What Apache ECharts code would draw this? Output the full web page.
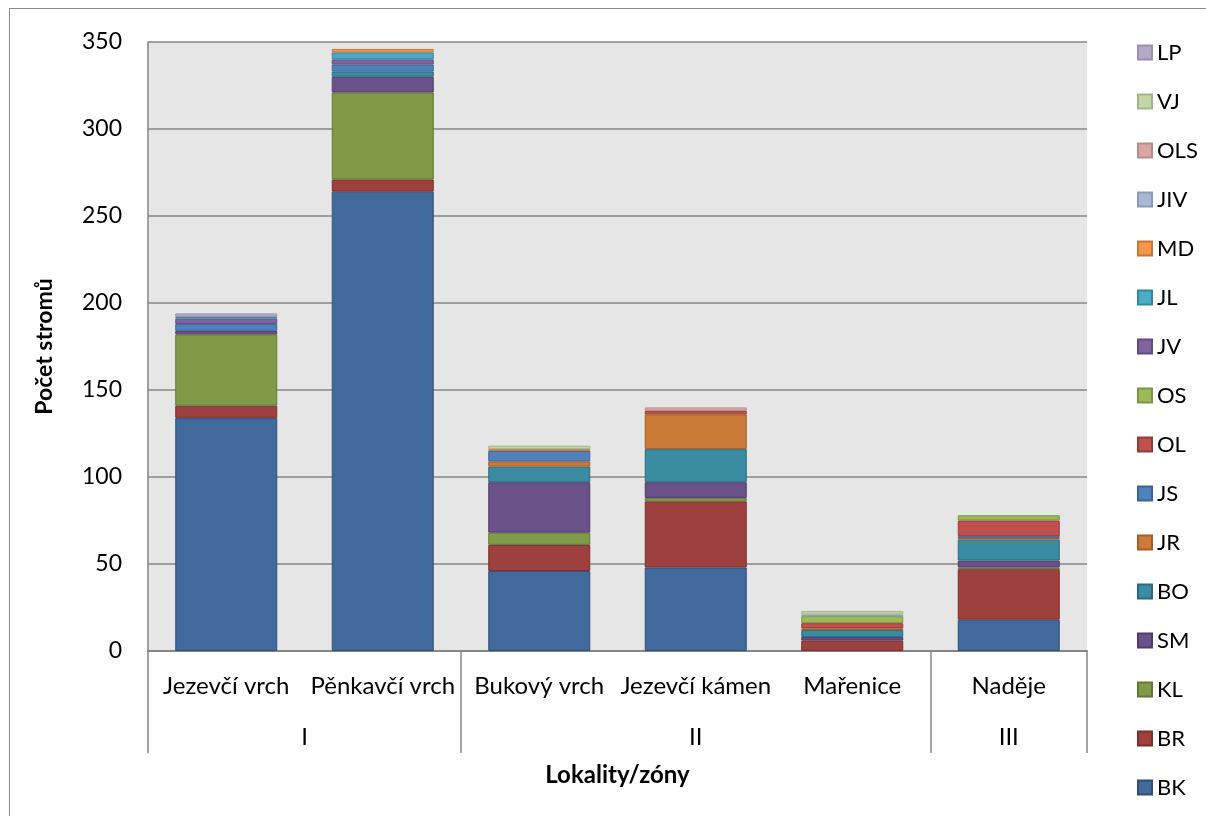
<!DOCTYPE html>
<html>
<head>
<meta charset="utf-8">
<script src="https://cdn.jsdelivr.net/npm/echarts@6/dist/echarts.min.js"></script>
<style>
  html, body { margin: 0; padding: 0; background: #ffffff; overflow: hidden; }
  #frame { position: absolute; left: 9px; top: 8px; width: 1300px; height: 900px; border: 1px solid #8c8c8c; box-sizing: border-box; }
  #chart { position: absolute; left: 0; top: 0; width: 1206px; height: 816px; }
</style>
</head>
<body>
<div id="frame"></div>
<div id="chart"></div>
<script>
// Localities (first level) and zones (second level)
const localities = ['Jezevčí vrch', 'Pěnkavčí vrch', 'Bukový vrch', 'Jezevčí kámen', 'Mařenice', 'Naděje'];
const zones = ['I', 'II', 'III'];
const zoneBounds = [0, 2, 5, 6];       // zone dividers, in category units
const zoneCenters = [1, 3.5, 5.5];     // where each zone label sits

// Tree counts per species, stacked bottom to top
const BK  = [134, 264, 46, 48, 0, 18];
const BR  = [7, 7, 15, 38, 6, 29];
const KL  = [41, 50, 7, 2, 0, 1];
const SM  = [2, 9, 29, 9, 2, 4];
const BO  = [0, 3, 9, 19, 4, 12];
const JR  = [0, 0, 3, 20, 1, 1];
const JS  = [4, 4, 6, 0, 0, 1];
const OL  = [0, 0, 0, 2, 3, 9];
const OS  = [0, 0, 0, 0, 4, 3];
const JV  = [3, 3, 0, 0, 0, 0];
const JL  = [1, 4, 0, 0, 0, 0];
const MD  = [0, 2, 1, 0, 0, 0];
const JIV = [0, 0, 0, 0, 1, 0];
const OLS = [0, 0, 0, 2, 0, 0];
const VJ  = [0, 0, 2, 0, 2, 0];
const LP  = [2, 0, 0, 0, 0, 0];

const yTicks = [0, 50, 100, 150, 200, 250, 300, 350];

const speciesData = { BK, BR, KL, SM, BO, JR, JS, OL, OS, JV, JL, MD, JIV, OLS, VJ, LP };
const speciesOrder = ['BK', 'BR', 'KL', 'SM', 'BO', 'JR', 'JS', 'OL', 'OS', 'JV', 'JL', 'MD', 'JIV', 'OLS', 'VJ', 'LP'];

const fills = {
  BK: '#41699B', BR: '#9E403E', KL: '#7F9B48', SM: '#6A5189', BO: '#3A8CA2', JR: '#CC7A38',
  JS: '#4F81BD', OL: '#C0504D', OS: '#9BBB59', JV: '#8064A2', JL: '#4BACC6', MD: '#F79646',
  JIV: '#A7B7D6', OLS: '#D9A6A5', VJ: '#C3D5A6', LP: '#B5A9C8'
};
const edges = {
  BK: '#2F4F78', BR: '#7A2D2B', KL: '#607735', SM: '#4F3A68', BO: '#2A6A7C', JR: '#A55D24',
  JS: '#3A6595', OL: '#963A38', OS: '#7A9444', JV: '#624B80', JL: '#34879D', MD: '#C6763A',
  JIV: '#8B9AB7', OLS: '#B88B8A', VJ: '#A4B48A', LP: '#9A8FAD'
};

const FONT = 'Lato, "Open Sans", sans-serif';

const series = speciesOrder.map(name => ({
  name: name,
  type: 'bar',
  stack: 'total',
  barWidth: 102,
  xAxisIndex: 0,
  yAxisIndex: 0,
  itemStyle: { color: fills[name], borderColor: edges[name], borderWidth: 1 },
  emphasis: { disabled: true },
  data: speciesData[name].map(v => (v === 0 ? '-' : v))
}));

const chart = echarts.init(document.getElementById('chart'), null, { renderer: 'canvas' });
chart.setOption({
  animation: false,
  backgroundColor: 'transparent',
  textStyle: { fontFamily: FONT, color: '#000' },
  grid: {
    left: 148, right: 119, top: 42, bottom: 165,
    show: true, backgroundColor: '#E6E6E6', borderWidth: 0
  },
  legend: {
    orient: 'vertical',
    left: 1132,
    top: 36.5,
    itemWidth: 14,
    itemHeight: 14,
    itemGap: 27.0,
    icon: 'rect',
    textStyle: { fontFamily: FONT, fontSize: 22, color: '#000', lineHeight: 20, padding: [0, 0, 0, 0] },
    data: speciesOrder.slice().reverse()
  },
  xAxis: [
    {
      type: 'category',
      data: localities,
      boundaryGap: true,
      axisLine: { show: true, lineStyle: { color: '#868686', width: 2 } },
      axisTick: { show: false },
      axisLabel: { interval: 0, fontFamily: FONT, fontSize: 24, color: '#000', margin: 23 },
      splitLine: { show: false },
      name: 'Lokality/zóny',
      nameLocation: 'middle',
      nameGap: 112,
      nameTextStyle: { fontFamily: FONT, fontSize: 24, fontWeight: 'bold', color: '#000' }
    },
    {
      type: 'value',
      min: 0,
      max: 6,
      position: 'bottom',
      axisLine: { show: false },
      axisTick: {
        show: true, customValues: zoneBounds, length: 102, inside: false,
        lineStyle: { color: '#868686', width: 1.5 }
      },
      axisLabel: {
        show: true, customValues: zoneCenters, margin: 74,
        fontFamily: FONT, fontSize: 24, color: '#000',
        formatter: v => zones[zoneCenters.indexOf(v)] || ''
      },
      splitLine: { show: false }
    }
  ],
  yAxis: {
    type: 'value',
    min: 0,
    max: 350,
    interval: 50,
    axisLine: { show: true, lineStyle: { color: '#868686', width: 1.5 } },
    axisTick: { show: false },
    axisLabel: {
      fontFamily: FONT, fontSize: 23, color: '#000', margin: 26,
      formatter: v => (yTicks.indexOf(v) >= 0 ? String(v) : '')
    },
    splitLine: { show: true, lineStyle: { color: '#868686', width: 1.5 } },
    name: 'Počet stromů',
    nameLocation: 'middle',
    nameGap: 92,
    nameRotate: 90,
    nameTextStyle: { fontFamily: FONT, fontSize: 23, fontWeight: 'bold', color: '#000' }
  },
  series: series
});
</script>
</body>
</html>
